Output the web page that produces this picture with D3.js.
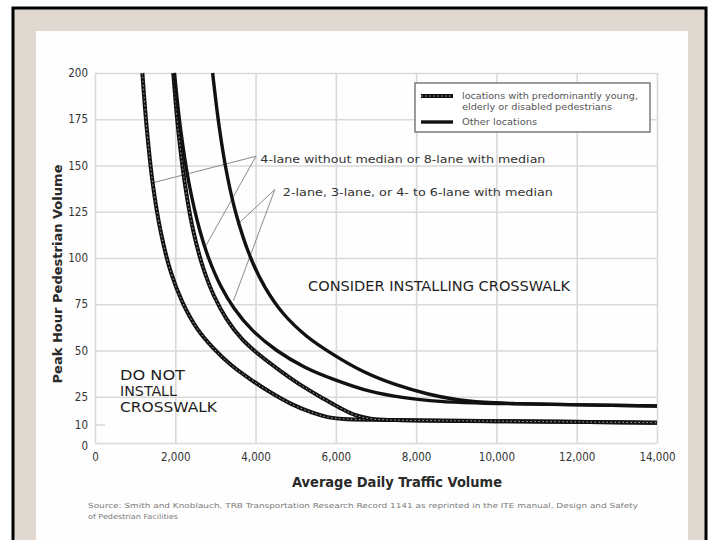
<!DOCTYPE html>
<html>
<head>
<meta charset="utf-8">
<script src="https://cdn.jsdelivr.net/npm/d3@7"></script>
<style>
  body { margin: 0; background: #fff; }
  svg text { font-family: "DejaVu Sans Condensed", "DejaVu Sans", sans-serif; }
</style>
</head>
<body>
<svg id="chart" width="709" height="540"></svg>
<script>
// ticks
let xTicks = [0, 2000, 4000, 6000, 8000, 10000, 12000, 14000];
let yTicks = [0, 10, 25, 50, 75, 100, 125, 150, 175, 200];

// curves: [ADT, peak hour pedestrians]
let fourLaneYoungElderly = [[1180, 200], [1290, 170], [1440, 140], [1630, 115], [1880, 93], [2180, 76], [2540, 62],
  [2960, 51], [3400, 42], [3900, 34], [4400, 27], [4900, 21], [5400, 16.5], [5800, 14], [6200, 13], [7000, 12.5],
  [10000, 11.8], [14000, 11]];
let twoLaneYoungElderly = [[1950, 200], [2070, 170], [2240, 140], [2445, 115], [2690, 95], [2955, 80], [3280, 67],
  [3670, 56], [4130, 47], [4650, 38.5], [5150, 31], [5650, 24.5], [6100, 19], [6500, 15], [6900, 13], [7500, 12.4],
  [10000, 11.8], [14000, 11]];
let fourLaneOther = [[1980, 200], [2130, 170], [2345, 140], [2610, 115], [2830, 100], [3130, 85], [3460, 73],
  [3920, 61], [4530, 50], [5230, 41], [6000, 34], [6850, 28], [7700, 24.5], [8600, 22.5], [9600, 21.6],
  [10500, 21.2], [14000, 20]];
let twoLaneOther = [[2930, 200], [3100, 170], [3290, 145], [3525, 123], [3880, 100], [4240, 84], [4690, 70],
  [5260, 58], [5960, 47.5], [6700, 38.5], [7500, 31.5], [8300, 26.5], [9000, 23.5], [9700, 22], [10500, 21.3],
  [14000, 20]];

let series = [
  {name: "4-lane, young/elderly", pts: fourLaneYoungElderly, dashed: true},
  {name: "2-lane, young/elderly", pts: twoLaneYoungElderly, dashed: true},
  {name: "4-lane, other", pts: fourLaneOther, dashed: false},
  {name: "2-lane, other", pts: twoLaneOther, dashed: false}
];

// leader lines from the road type labels: [from, to]
let leaders4 = [[[4010, 155], [1410, 140.5]], [[4010, 155], [2720, 105]]];
let leaders2 = [[[4480, 137], [3540, 118]], [[4480, 137], [3450, 77]]];

let svg = d3.select("#chart");

// frame
svg.append("rect").attr("x", 0).attr("y", 0).attr("width", 709).attr("height", 540).attr("fill", "#fff");
svg.append("rect").attr("x", 13).attr("y", 8).attr("width", 693).attr("height", 540)
  .attr("fill", "#e0d8ce").attr("stroke", "#000").attr("stroke-width", 3);
svg.append("rect").attr("x", 36).attr("y", 31).attr("width", 652).attr("height", 520).attr("fill", "#fefefe");

let margin = {top: 73, right: 52, bottom: 97, left: 95};
let x = d3.scaleLinear().domain([0, 14000]).range([margin.left, 709 - margin.right]);
let y = d3.scaleLinear().domain([0, 200]).range([540 - margin.bottom, margin.top]);
let plotW = x.range()[1] - x.range()[0];
let plotH = y.range()[0] - y.range()[1];

// grid + axes
let xAxis = d3.axisBottom(x).tickValues(xTicks).tickSize(-plotH).tickPadding(10).tickFormat(d3.format(","));
let xg = svg.append("g").attr("transform", "translate(0," + y(0) + ")").call(xAxis);
let yAxis = d3.axisLeft(y).tickValues(yTicks).tickSize(-plotW).tickPadding(7);
let yg = svg.append("g").attr("transform", "translate(" + x(0) + ",0)").call(yAxis);

[xg, yg].forEach(g => {
  g.select(".domain").remove();
  g.selectAll(".tick line").attr("stroke", "#d9d9d9").attr("stroke-width", 1.6);
  g.selectAll(".tick text").attr("fill", "#333").style("font-size", "11.5px");
});
yg.selectAll(".tick").filter(d => d === 10).select("line").attr("x2", 10);
yg.selectAll(".tick").filter(d => d === 0).select("text").attr("dy", "0.6em");

// leader lines
let plot = svg.append("g");
leaders4.concat(leaders2).forEach(l => {
  plot.append("line")
    .attr("x1", x(l[0][0])).attr("y1", y(l[0][1]))
    .attr("x2", x(l[1][0])).attr("y2", y(l[1][1]))
    .attr("stroke", "#8a8a8a").attr("stroke-width", 1);
});

// curves
let line = d3.line().x(d => x(d[0])).y(d => y(d[1])).curve(d3.curveCatmullRom.alpha(0.5));
series.forEach(s => {
  plot.append("path").datum(s.pts).attr("d", line)
    .attr("fill", "none").attr("stroke", "#111").attr("stroke-width", s.dashed ? 4 : 3.4);
  if (s.dashed) {
    plot.append("path").datum(s.pts).attr("d", line)
      .attr("fill", "none").attr("stroke", "#aaa").attr("stroke-width", 1)
      .attr("stroke-dasharray", "1.5,2.5");
  }
});

// legend
let lg = svg.append("g");
lg.append("rect").attr("x", 415).attr("y", 83).attr("width", 235).attr("height", 49)
  .attr("fill", "#fff").attr("stroke", "#7a7a7a").attr("stroke-width", 1.5);
lg.append("line").attr("x1", 421).attr("x2", 453).attr("y1", 96).attr("y2", 96)
  .attr("stroke", "#111").attr("stroke-width", 4);
lg.append("line").attr("x1", 421).attr("x2", 453).attr("y1", 96).attr("y2", 96)
  .attr("stroke", "#aaa").attr("stroke-width", 1).attr("stroke-dasharray", "1.5,2.5");
lg.append("line").attr("x1", 421).attr("x2", 453).attr("y1", 122).attr("y2", 122)
  .attr("stroke", "#111").attr("stroke-width", 3.4);
let legendText = [["locations with predominantly young,", 99, 176], ["elderly or disabled pedestrians", 110, 150], ["Other locations", 125, 75]];
legendText.forEach(t => {
  lg.append("text").attr("x", 462).attr("y", t[1]).attr("textLength", t[2]).attr("lengthAdjust", "spacingAndGlyphs")
    .style("font-size", "8.5px").attr("fill", "#555").text(t[0]);
});

// road type labels
svg.append("text").attr("x", x(4120)).attr("y", y(151.5)).attr("textLength", 285).attr("lengthAdjust", "spacingAndGlyphs")
  .style("font-size", "10.5px").attr("fill", "#333").text("4-lane without median or 8-lane with median");
svg.append("text").attr("x", x(4680)).attr("y", y(133.5)).attr("textLength", 270).attr("lengthAdjust", "spacingAndGlyphs")
  .style("font-size", "10.5px").attr("fill", "#333").text("2-lane, 3-lane, or 4- to 6-lane with median");

// region labels
svg.append("text").attr("x", 308).attr("y", 291).attr("textLength", 262).attr("lengthAdjust", "spacingAndGlyphs")
  .style("font-size", "14.5px").attr("fill", "#1e1e1e").text("CONSIDER INSTALLING CROSSWALK");
[["DO NOT", 380, 65], ["INSTALL", 396, 57], ["CROSSWALK", 412, 97]].forEach(t => {
  svg.append("text").attr("x", 120).attr("y", t[1]).attr("textLength", t[2]).attr("lengthAdjust", "spacingAndGlyphs")
    .style("font-size", "13.5px").attr("fill", "#1e1e1e").text(t[0]);
});

// axis titles
svg.append("text").attr("x", 397).attr("y", 487).attr("text-anchor", "middle")
  .attr("textLength", 210).attr("lengthAdjust", "spacingAndGlyphs")
  .style("font-size", "13.5px").style("font-weight", "bold").attr("fill", "#2a2a2a").text("Average Daily Traffic Volume");
svg.append("text").attr("transform", "translate(62,274) rotate(-90)").attr("text-anchor", "middle")
  .attr("textLength", 219).attr("lengthAdjust", "spacingAndGlyphs")
  .style("font-size", "13px").style("font-weight", "bold").attr("fill", "#2a2a2a").text("Peak Hour Pedestrian Volume");

// source
svg.append("text").attr("x", 88).attr("y", 508).attr("textLength", 550).attr("lengthAdjust", "spacingAndGlyphs")
  .style("font-size", "7px").attr("fill", "#7a7a7a")
  .text("Source: Smith and Knoblauch, TRB Transportation Research Record 1141 as reprinted in the ITE manual, Design and Safety");
svg.append("text").attr("x", 88).attr("y", 519).attr("textLength", 90).attr("lengthAdjust", "spacingAndGlyphs")
  .style("font-size", "7px").attr("fill", "#7a7a7a").text("of Pedestrian Facilities");
</script>
</body>
</html>
